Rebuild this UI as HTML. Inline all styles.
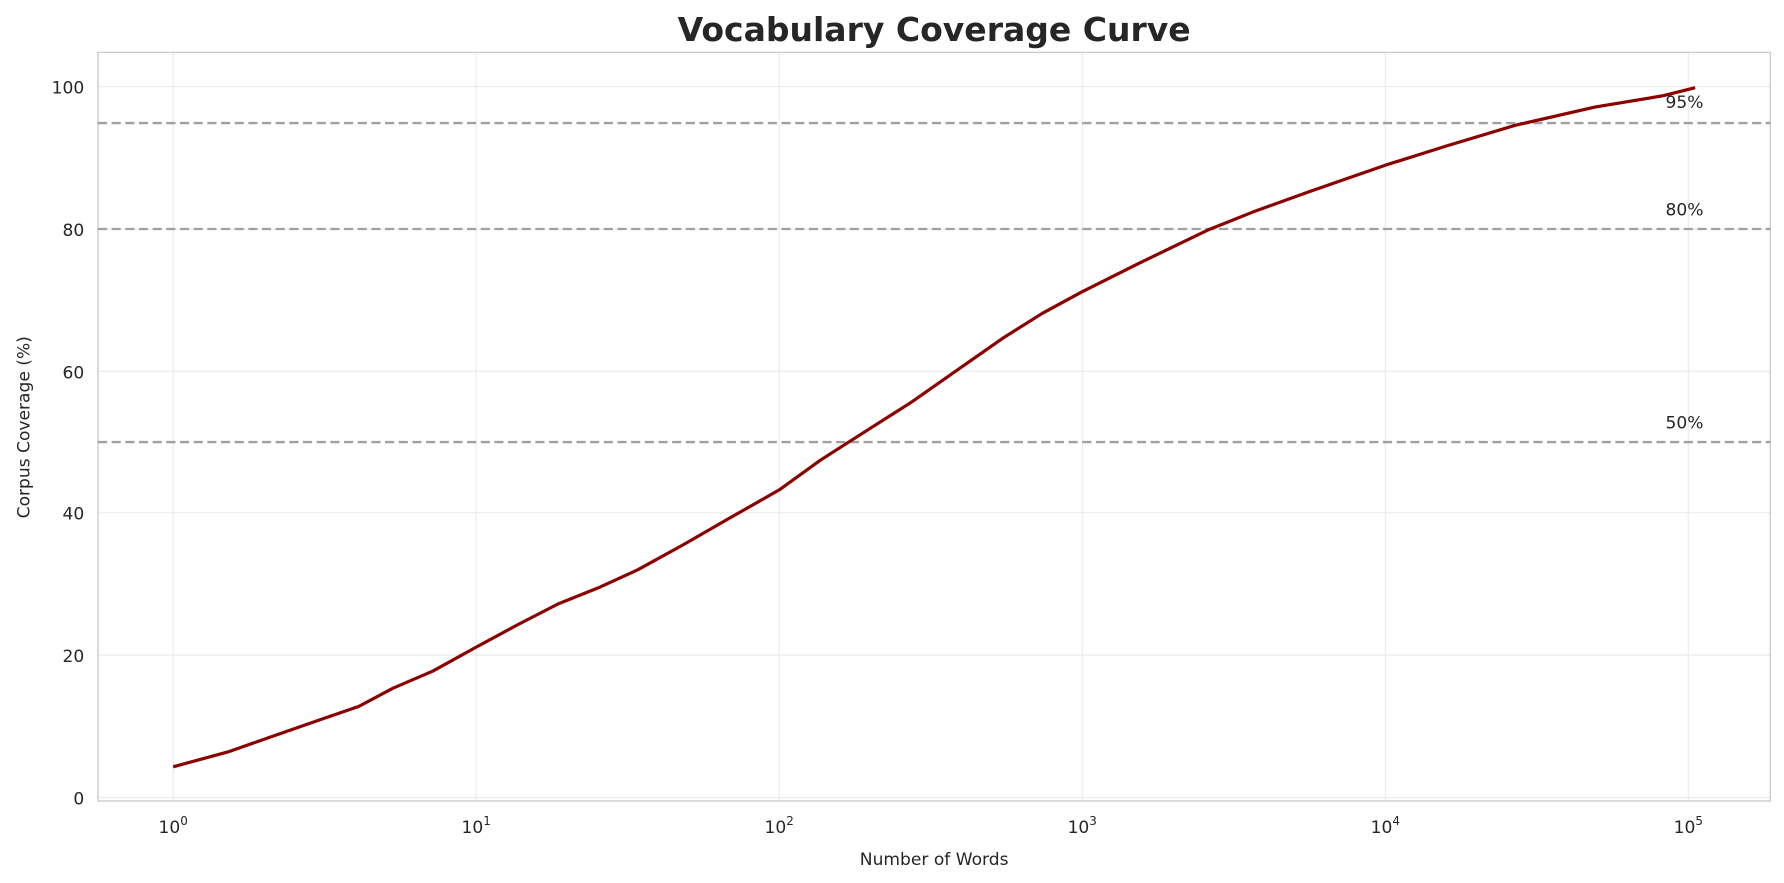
<!DOCTYPE html>
<html><head><style>html,body{margin:0;padding:0;background:#fff;overflow:hidden}svg{display:block}</style></head>
<body>
<svg width="1784" height="883" viewBox="0 0 1566 775" preserveAspectRatio="none" xmlns="http://www.w3.org/2000/svg" font-family="DejaVu Sans, Liberation Sans, sans-serif">
<rect width="1566" height="775" fill="#fff"/>
<text x="820" y="36" text-anchor="middle" font-size="29" font-weight="bold" fill="#262626">Vocabulary Coverage Curve</text>
<g stroke="#ebebeb" stroke-width="1">
<line x1="152" y1="46" x2="152" y2="703"/><line x1="418" y1="46" x2="418" y2="703"/><line x1="684" y1="46" x2="684" y2="703"/><line x1="950" y1="46" x2="950" y2="703"/><line x1="1216" y1="46" x2="1216" y2="703"/><line x1="1482" y1="46" x2="1482" y2="703"/>
<line x1="86" y1="700" x2="1554" y2="700"/><line x1="86" y1="575" x2="1554" y2="575"/><line x1="86" y1="450" x2="1554" y2="450"/><line x1="86" y1="326" x2="1554" y2="326"/><line x1="86" y1="201" x2="1554" y2="201"/><line x1="86" y1="76" x2="1554" y2="76"/>
</g>
<rect x="86" y="46" width="1468" height="657" fill="none" stroke="#ccc" stroke-width="1.2"/>
<g stroke="#a0a0a0" stroke-width="2" stroke-dasharray="8,4">
<line x1="86" y1="108" x2="1554" y2="108"/><line x1="86" y1="201" x2="1554" y2="201"/><line x1="86" y1="388" x2="1554" y2="388"/>
</g>
<g font-size="15" fill="#262626">
<text x="1462" y="95">95%</text><text x="1462" y="189">80%</text><text x="1462" y="376">50%</text>
</g>
<polyline fill="none" stroke="#8b0000" stroke-width="2.8" stroke-linejoin="round" points="152,673 200,660 240,646 280,632 315,620 345,604 380,589 418,568 455,548 490,530 525,516 560,500 600,478 640,455 684,430 720,404 745,388 800,353 850,318 880,297 915,275 950,256 1000,231 1060,202 1100,186 1150,168 1216,145 1270,128 1330,110 1400,94 1460,84 1488,77"/>
<g font-size="15" fill="#262626" text-anchor="end">
<text x="74" y="706">0</text><text x="74" y="581">20</text><text x="74" y="456">40</text><text x="74" y="332">60</text><text x="74" y="207">80</text><text x="74" y="82">100</text>
</g>
<g font-size="15" fill="#262626" text-anchor="middle">
<text x="152" y="731">10<tspan font-size="10.5" dy="-7">0</tspan></text>
<text x="418" y="731">10<tspan font-size="10.5" dy="-7">1</tspan></text>
<text x="684" y="731">10<tspan font-size="10.5" dy="-7">2</tspan></text>
<text x="950" y="731">10<tspan font-size="10.5" dy="-7">3</tspan></text>
<text x="1216" y="731">10<tspan font-size="10.5" dy="-7">4</tspan></text>
<text x="1482" y="731">10<tspan font-size="10.5" dy="-7">5</tspan></text>
<text x="820" y="759">Number of Words</text>
<text transform="translate(26,375) rotate(-90)">Corpus Coverage (%)</text>
</g>
</svg>
</body></html>
